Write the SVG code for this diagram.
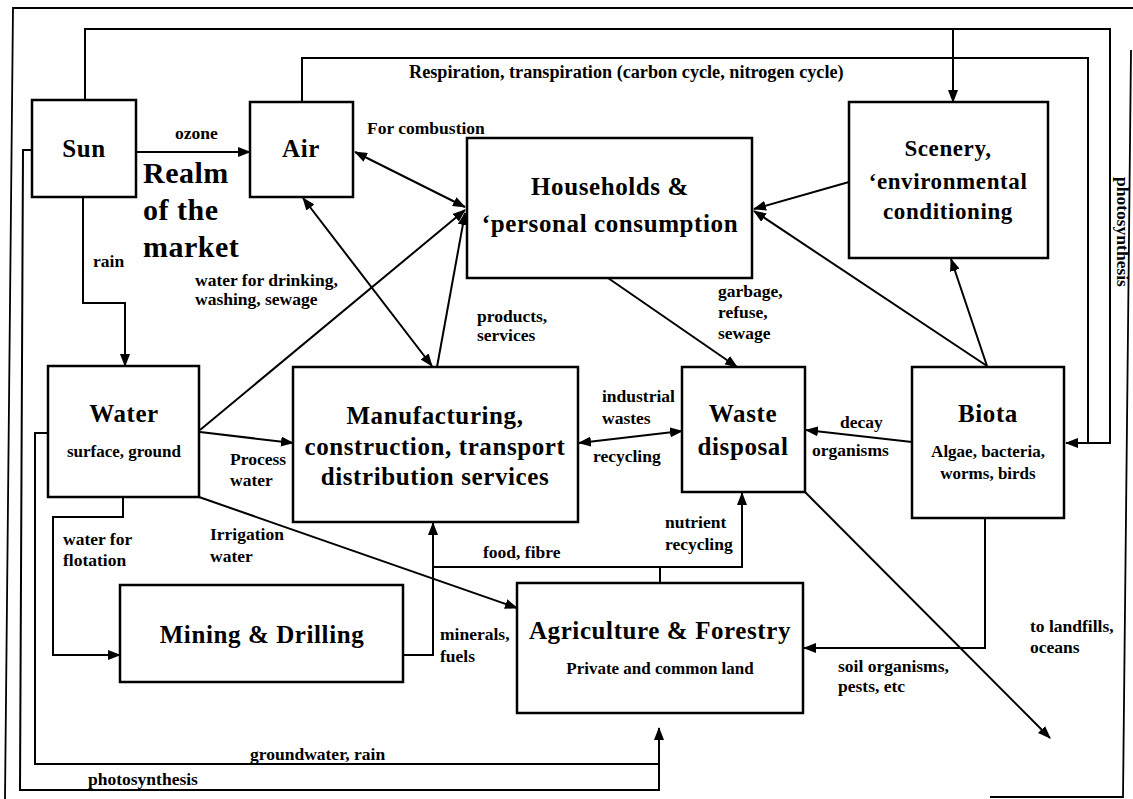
<svg xmlns="http://www.w3.org/2000/svg" width="1133" height="799" viewBox="0 0 1133 799">
  <defs>
    <marker id="ah" viewBox="0 0 13 10" refX="12" refY="5" markerWidth="13" markerHeight="10" markerUnits="userSpaceOnUse" orient="auto-start-reverse">
      <path d="M0,0 L13,5 L0,10 Z" fill="#000"/>
    </marker>
    <style>
      .box { fill: #fff; stroke: #000; stroke-width: 2.5; }
      .ln { fill: none; stroke: #000; stroke-width: 2; }
      .frame { fill: none; stroke: #000; stroke-width: 1.8; }
      .arr { marker-end: url(#ah); }
      .dbl { marker-start: url(#ah); marker-end: url(#ah); }
      .title { font-family: "Liberation Serif", "Times New Roman", serif; font-weight: bold; font-size: 25px; text-anchor: middle; letter-spacing: 0.6px; fill: #000; }
      .sub { font-family: "Liberation Serif", "Times New Roman", serif; font-weight: bold; font-size: 17px; text-anchor: middle; fill: #000; }
      .lbl { font-family: "Liberation Serif", "Times New Roman", serif; font-weight: bold; font-size: 17.5px; fill: #000; }
      .big { font-family: "Liberation Serif", "Times New Roman", serif; font-weight: bold; font-size: 30px; letter-spacing: 0.5px; fill: #000; }
    </style>
  </defs>

  <rect width="1133" height="799" fill="#fff"/>

  <!-- outer frame -->
  <g id="frame">
    <path class="frame" d="M5,799 L13,8 L1133,8"/>
    <path class="frame" d="M1131,50 L1123,797 L990,797"/>
  </g>

  <!-- connectors -->
  <g id="connectors">
    <!-- sunlight to scenery and biota -->
    <path class="ln" d="M85,100 V29 H1110 V443 H1088"/>
    <path class="ln arr" d="M953,29 V102"/>
    <!-- respiration loop from air -->
    <path class="ln arr" d="M302,102 V58 H1088 V443 H1066"/>
    <!-- ozone -->
    <path class="ln arr" d="M136,152 H250"/>
    <!-- for combustion -->
    <path class="ln dbl" d="M355,152 L465,207"/>
    <!-- air / manufacturing -->
    <path class="ln dbl" d="M303,198 L432,366"/>
    <!-- products, services -->
    <path class="ln arr" d="M437,367 L465,213"/>
    <!-- water for drinking -->
    <path class="ln arr" d="M200,430 L465,210"/>
    <!-- scenery and biota to households -->
    <path class="ln arr" d="M849,182 L754,209"/>
    <path class="ln arr" d="M987,366 L754,211"/>
    <path class="ln arr" d="M987,366 L951,259"/>
    <!-- garbage -->
    <path class="ln arr" d="M608,278 L737,367"/>
    <!-- process water -->
    <path class="ln arr" d="M200,432 L293,443"/>
    <!-- industrial wastes / recycling -->
    <path class="ln dbl" d="M579,443 L682,431"/>
    <!-- decay organisms -->
    <path class="ln arr" d="M912,442 L806,430"/>
    <!-- rain -->
    <path class="ln arr" d="M83,197 V303 H125 V366"/>
    <!-- water for flotation -->
    <path class="ln arr" d="M123,497 V517 H53 V655 H120"/>
    <!-- irrigation water -->
    <path class="ln arr" d="M199,497 L517,608"/>
    <!-- minerals, fuels and food, fibre -->
    <path class="ln arr" d="M403,655 H433 V523"/>
    <path class="ln" d="M660,583 V567 H433"/>
    <!-- nutrient recycling -->
    <path class="ln arr" d="M660,567 H742 V493"/>
    <!-- soil organisms -->
    <path class="ln arr" d="M985,518 V648 H804"/>
    <!-- to landfills, oceans -->
    <path class="ln arr" d="M805,492 L1050,738"/>
    <!-- groundwater and photosynthesis to agriculture -->
    <path class="ln" d="M48,433 H35 V764 H659"/>
    <path class="ln arr" d="M32,150 H23 L20,790 H659 V728"/>
  </g>

  <!-- connector labels -->
  <g id="labels">
    <text class="lbl" x="175" y="139">ozone</text>
    <text class="lbl" x="367" y="134">For combustion</text>
    <text class="lbl" x="409" y="78" style="font-size:18.2px">Respiration, transpiration (carbon cycle, nitrogen cycle)</text>
    <text class="lbl" x="93" y="267">rain</text>
    <text class="lbl" x="195" y="286">water for drinking,</text>
    <text class="lbl" x="195" y="305">washing, sewage</text>
    <text class="lbl" x="477" y="322">products,</text>
    <text class="lbl" x="477" y="341">services</text>
    <text class="lbl" x="718" y="297">garbage,</text>
    <text class="lbl" x="718" y="318">refuse,</text>
    <text class="lbl" x="718" y="339">sewage</text>
    <text class="lbl" x="602" y="402">industrial</text>
    <text class="lbl" x="602" y="424">wastes</text>
    <text class="lbl" x="593" y="462">recycling</text>
    <text class="lbl" x="230" y="465">Process</text>
    <text class="lbl" x="230" y="486">water</text>
    <text class="lbl" x="840" y="428">decay</text>
    <text class="lbl" x="812" y="456">organisms</text>
    <text class="lbl" x="63" y="545">water for</text>
    <text class="lbl" x="63" y="566">flotation</text>
    <text class="lbl" x="210" y="540">Irrigation</text>
    <text class="lbl" x="210" y="562">water</text>
    <text class="lbl" x="483" y="558">food, fibre</text>
    <text class="lbl" x="665" y="528">nutrient</text>
    <text class="lbl" x="665" y="550">recycling</text>
    <text class="lbl" x="440" y="640">minerals,</text>
    <text class="lbl" x="440" y="662">fuels</text>
    <text class="lbl" x="838" y="672">soil organisms,</text>
    <text class="lbl" x="838" y="692">pests, etc</text>
    <text class="lbl" x="1030" y="632">to landfills,</text>
    <text class="lbl" x="1030" y="653">oceans</text>
    <text class="lbl" x="250" y="760">groundwater, rain</text>
    <text class="lbl" x="88" y="785">photosynthesis</text>
    <text class="lbl" transform="translate(1117,177) rotate(90)">photosynthesis</text>
    <text class="big" x="143" y="183">Realm</text>
    <text class="big" x="143" y="220">of the</text>
    <text class="big" x="143" y="257">market</text>
  </g>

  <!-- nodes -->
  <g id="sun">
    <rect class="box" x="32" y="100" width="104" height="97"/>
    <text class="title" x="84" y="157">Sun</text>
  </g>
  <g id="air">
    <rect class="box" x="250" y="102" width="103" height="95"/>
    <text class="title" x="301" y="157">Air</text>
  </g>
  <g id="households">
    <rect class="box" x="467" y="138" width="285" height="140"/>
    <text class="title" x="610" y="195">Households &amp;</text>
    <text class="title" x="610" y="232">‘personal consumption</text>
  </g>
  <g id="scenery">
    <rect class="box" x="849" y="102" width="199" height="156"/>
    <text class="title" x="948" y="156" style="font-size:23px">Scenery,</text>
    <text class="title" x="948" y="189" style="font-size:23px">‘environmental</text>
    <text class="title" x="948" y="219" style="font-size:23px">conditioning</text>
  </g>
  <g id="water">
    <rect class="box" x="48" y="366" width="151" height="131"/>
    <text class="title" x="124" y="422">Water</text>
    <text class="sub" x="124" y="457">surface, ground</text>
  </g>
  <g id="manufacturing">
    <rect class="box" x="293" y="367" width="285" height="155"/>
    <text class="title" x="435" y="424">Manufacturing,</text>
    <text class="title" x="435" y="455">construction, transport</text>
    <text class="title" x="435" y="485">distribution services</text>
  </g>
  <g id="waste">
    <rect class="box" x="682" y="367" width="123" height="125"/>
    <text class="title" x="743" y="422">Waste</text>
    <text class="title" x="743" y="455">disposal</text>
  </g>
  <g id="biota">
    <rect class="box" x="912" y="367" width="152" height="151"/>
    <text class="title" x="988" y="422">Biota</text>
    <text class="sub" x="988" y="457">Algae, bacteria,</text>
    <text class="sub" x="988" y="479">worms, birds</text>
  </g>
  <g id="mining">
    <rect class="box" x="120" y="585" width="283" height="97"/>
    <text class="title" x="262" y="643">Mining &amp; Drilling</text>
  </g>
  <g id="agriculture">
    <rect class="box" x="517" y="583" width="286" height="130"/>
    <text class="title" x="660" y="639">Agriculture &amp; Forestry</text>
    <text class="sub" x="660" y="674">Private and common land</text>
  </g>
</svg>
